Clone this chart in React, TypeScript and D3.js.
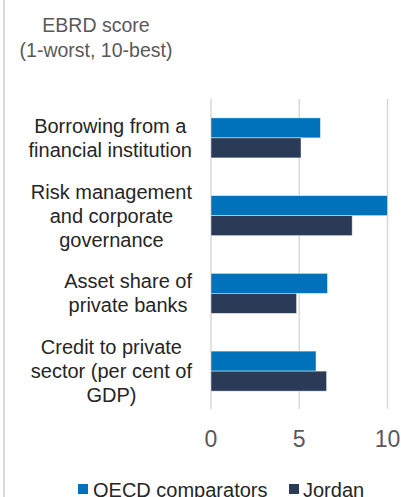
import React from "react";
import * as d3 from "d3";

const categories: string[][] = [
  ["Borrowing from a", "financial institution"],
  ["Risk management", "and corporate", "governance"],
  ["Asset share of", "private banks"],
  ["Credit to private", "sector (per cent of", "GDP)"],
];
const seriesNames = ["OECD comparators", "Jordan"];
const oecdValues = [6.2, 10, 6.6, 5.95];
const jordanValues = [5.1, 8.0, 4.85, 6.55];
const xTicks = [0, 5, 10];
const titleLines = ["EBRD score", "(1-worst, 10-best)"];

const W = 401;
const H = 497;
const FONT = "'Liberation Sans', Arial, sans-serif";
const COLORS = ["#0072BC", "#2B3A57"];

function measure(text: string, size: number): number {
  if (typeof document === "undefined") return text.length * size * 0.5;
  const c = document.createElement("canvas");
  const ctx = c.getContext("2d");
  if (!ctx) return text.length * size * 0.5;
  ctx.font = `${size}px 'Liberation Sans', Arial, sans-serif`;
  return ctx.measureText(text).width;
}

export default function App() {
  const x = d3.scaleLinear().domain([0, 10]).range([211, 387.5]);
  const y = d3
    .scaleBand<number>()
    .domain(d3.range(categories.length))
    .range([99, 410])
    .paddingInner(0.485)
    .paddingOuter(0.2425);
  const sub = d3.scaleBand<number>().domain([0, 1]).range([0, y.bandwidth()]);
  const series = [oecdValues, jordanValues];
  const labelRight = 192;
  const lineH = 24;

  return (
    <svg
      width={W}
      height={H}
      style={{ position: "absolute", left: 0, top: 0 }}
      fontFamily={FONT}
    >
      <rect x={0} y={0} width={W} height={H} fill="#fff" />
      <line x1={4} x2={4} y1={0} y2={H} stroke="#d9d9d9" strokeWidth={2} />
      {titleLines.map((t, i) => (
        <text
          key={i}
          x={96}
          y={32 + i * 25}
          textAnchor="middle"
          fontSize={19.5}
          fill="#595959"
        >
          {t}
        </text>
      ))}
      {xTicks.map((t) => (
        <g key={t}>
          <line
            x1={x(t)}
            x2={x(t)}
            y1={99}
            y2={409}
            stroke="#d9d9d9"
            strokeWidth={1.5}
          />
          <text
            x={x(t)}
            y={447}
            textAnchor="middle"
            fontSize={23}
            fill="#595959"
          >
            {t}
          </text>
        </g>
      ))}
      {categories.map((lines, ci) => {
        const center = (y(ci) as number) + y.bandwidth() / 2;
        const maxW = Math.max(...lines.map((l) => measure(l, 20)));
        const cx = labelRight - maxW / 2;
        return (
          <g key={ci}>
            {series.map((vals, si) => (
              <rect
                key={si}
                x={x(0)}
                y={(y(ci) as number) + (sub(si) as number)}
                width={x(vals[ci]) - x(0)}
                height={sub.bandwidth()}
                fill={COLORS[si]}
                stroke="#ffffff"
                strokeOpacity={0.6}
                strokeWidth={0.75}
              />
            ))}
            {lines.map((l, li) => (
              <text
                key={li}
                x={cx}
                y={center + (li - (lines.length - 1) / 2) * lineH + 7}
                textAnchor="middle"
                fontSize={20}
                fill="#262626"
              >
                {l}
              </text>
            ))}
          </g>
        );
      })}
      <g>
        <rect x={78} y={484} width={10} height={10} fill={COLORS[0]} />
        <text x={93} y={497} fontSize={20} fill="#262626">
          {seriesNames[0]}
        </text>
        <rect x={289} y={484} width={10} height={10} fill={COLORS[1]} />
        <text x={303} y={497} fontSize={20} fill="#262626">
          {seriesNames[1]}
        </text>
      </g>
    </svg>
  );
}
